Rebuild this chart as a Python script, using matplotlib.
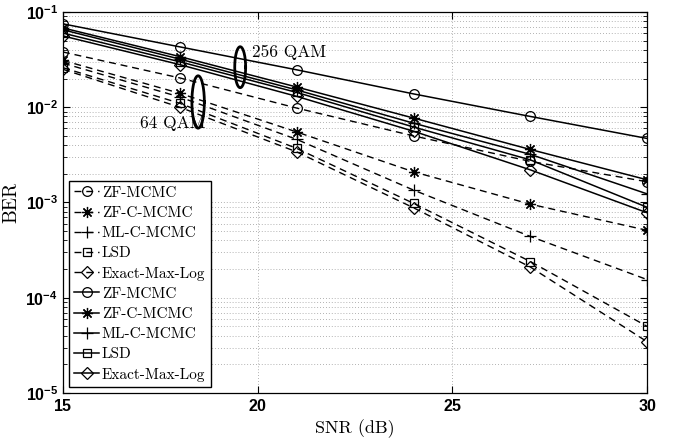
import numpy as np
import matplotlib
matplotlib.use('Agg')
import matplotlib.pyplot as plt
from matplotlib.ticker import FixedLocator, FixedFormatter, LogLocator, NullFormatter

plt.rcParams['mathtext.fontset'] = 'custom'
plt.rcParams['mathtext.bf'] = 'Liberation Sans:bold'
plt.rcParams['mathtext.rm'] = 'Liberation Sans:bold'

SNR = [15, 18, 21, 24, 27, 30]
NAMES = ['ZF-MCMC', 'ZF-C-MCMC', 'ML-C-MCMC', 'LSD', 'Exact-Max-Log']

# 64 QAM (dashed)
BER_64 = [
    [0.038, 0.0203, 0.0098, 0.0050, 0.0027, 0.00165],
    [0.031, 0.014, 0.0055, 0.0021, 0.00096, 0.00051],
    [0.029, 0.0128, 0.0046, 0.00135, 0.00044, 0.000155],
    [0.026, 0.011, 0.0037, 0.00098, 0.00024, 0.00005],
    [0.025, 0.010, 0.0034, 0.00088, 0.00021, 0.0000345],
]
# 256 QAM (solid)
BER_256 = [
    [0.075, 0.043, 0.0247, 0.0138, 0.0080, 0.0047],
    [0.068, 0.034, 0.0163, 0.0077, 0.0036, 0.00173],
    [0.065, 0.032, 0.0152, 0.0068, 0.0032, 0.00123],
    [0.060, 0.030, 0.0143, 0.0062, 0.0028, 0.00089],
    [0.056, 0.028, 0.0130, 0.0056, 0.0022, 0.00078],
]

MARKERS = ['o', (8, 2, 0), '+', 's', 'D']
MSIZE = [7, 8, 8, 6, 6]

serif = 'cmr10'

fig = plt.figure(figsize=(6.77, 4.38), dpi=100)
ax = fig.add_axes([0.093, 0.1027, 0.863, 0.87])

for k in range(5):
    ax.semilogy(SNR, BER_64[k], color='k', lw=1.0, ls=(0, (5, 3.5)),
                marker=MARKERS[k], ms=MSIZE[k], mfc='none', mew=0.9,
                label=NAMES[k])
for k in range(5):
    ax.semilogy(SNR, BER_256[k], color='k', lw=1.1, ls='-',
                marker=MARKERS[k], ms=MSIZE[k], mfc='none', mew=0.9,
                label=NAMES[k])

# ellipses marking the two groups (drawn in log space)
t = np.linspace(0, 2 * np.pi, 200)
for cx, cy, a, b in [(19.55, -1.58, 0.14, 0.215), (18.47, -1.945, 0.16, 0.275)]:
    ax.plot(cx + a * np.cos(t), 10 ** (cy + b * np.sin(t)), color='k', lw=2.0)
ax.text(19.85, 10 ** -1.42, '256 QAM', family=serif, fontsize=12.5, va='center', ha='left')
ax.text(16.98, 10 ** -2.165, '64 QAM', family=serif, fontsize=12.5, va='center', ha='left')

ax.set_xlim(15, 30)
ax.set_ylim(1e-5, 1e-1)
ax.xaxis.set_major_locator(FixedLocator([15, 20, 25, 30]))
ax.xaxis.set_major_formatter(FixedFormatter([r'$\mathbf{15}$', r'$\mathbf{20}$',
                                             r'$\mathbf{25}$', r'$\mathbf{30}$']))
ax.yaxis.set_major_locator(FixedLocator([1e-5, 1e-4, 1e-3, 1e-2, 1e-1]))
ax.yaxis.set_major_formatter(FixedFormatter([r'$\mathbf{10^{-5}}$', r'$\mathbf{10^{-4}}$',
                                             r'$\mathbf{10^{-3}}$', r'$\mathbf{10^{-2}}$',
                                             r'$\mathbf{10^{-1}}$']))
ax.yaxis.set_minor_locator(LogLocator(base=10, subs=np.arange(2, 10)))
ax.yaxis.set_minor_formatter(NullFormatter())
ax.tick_params(which='both', direction='in', top=True, right=True, labelsize=11.5)
ax.tick_params(which='major', length=5, width=0.8)
ax.tick_params(which='minor', length=3, width=0.6)
ax.grid(True, which='major', axis='both', ls=(0, (1, 2.5)), color='0.6', lw=0.6)
ax.grid(True, which='minor', axis='y', ls=(0, (1, 2.5)), color='0.6', lw=0.6)
for s in ax.spines.values():
    s.set_linewidth(0.9)

ax.set_xlabel('SNR (dB)', family=serif, fontsize=13, labelpad=4)
ax.set_ylabel('BER', family=serif, fontsize=14, labelpad=4)

leg = ax.legend(loc='lower left', prop={'family': serif, 'size': 11},
                handlelength=1.6, handletextpad=0.2, labelspacing=0.42,
                borderaxespad=0.4, borderpad=0.35, fancybox=False,
                framealpha=1, edgecolor='k')
leg.get_frame().set_linewidth(1.0)

fig.savefig('out.png', dpi=100)
